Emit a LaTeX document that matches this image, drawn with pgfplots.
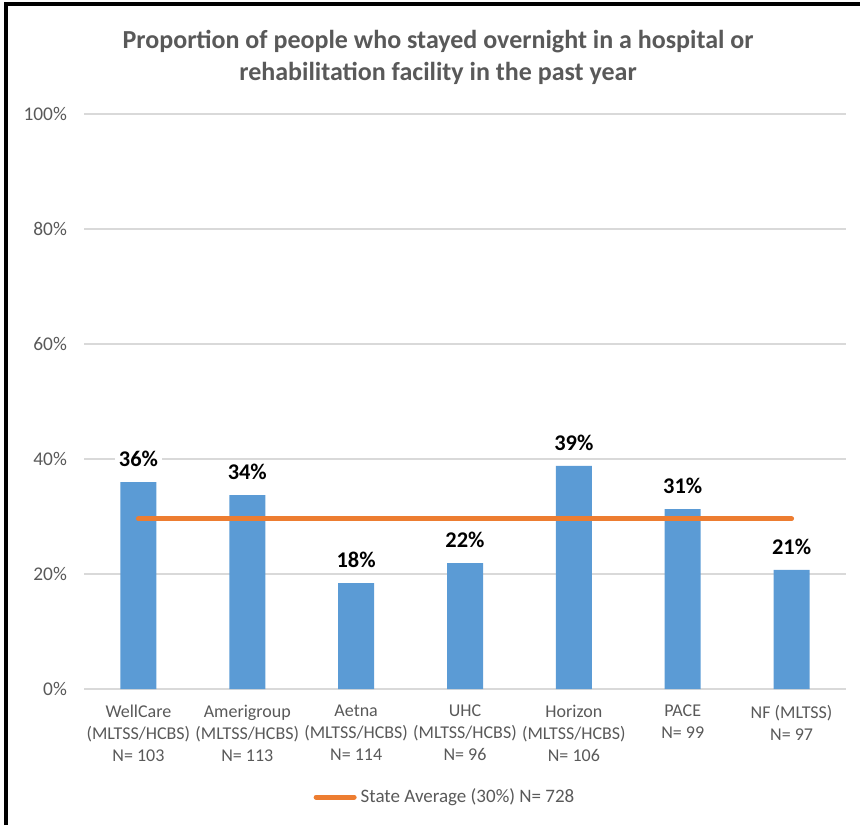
\documentclass[border=0pt]{standalone}
\usepackage{pgfplots}
\pgfplotsset{compat=1.18}
\usepackage{fontspec}
\setmainfont{Carlito}
\definecolor{barblue}{HTML}{5B9BD5}
\definecolor{avgorange}{HTML}{ED7D31}
\definecolor{txtgray}{HTML}{595959}
\definecolor{gridgray}{HTML}{D9D9D9}
\begin{document}
\begin{tikzpicture}
\path[use as bounding box] (0,0) rectangle (430pt,412.5pt);
\draw[line width=1.6pt] (3pt,0) -- (3pt,410.5pt) -- (430pt,410.5pt);
\node[align=center, font=\fontsize{13}{16}\selectfont\bfseries, text=txtgray] at (219pt,384pt)
  {Proportion of people who stayed overnight in a hospital or\\rehabilitation facility in the past year};
\begin{axis}[
  at={(42pt,68pt)}, anchor=south west,
  scale only axis, width=381pt, height=287.5pt,
  xmin=-0.5, xmax=6.5, ymin=0, ymax=100,
  axis x line*=bottom, axis y line*=left,
  y axis line style={draw=none},
  x axis line style={gridgray, line width=0.8pt, -},
  xtick=data, xtick style={draw=none},
  xticklabels={{WellCare\\(MLTSS/HCBS)\\N= 103},{Amerigroup\\(MLTSS/HCBS)\\N= 113},{Aetna\\(MLTSS/HCBS)\\N= 114},{UHC\\(MLTSS/HCBS)\\N= 96},{Horizon\\(MLTSS/HCBS)\\N= 106},{PACE\\N= 99},{NF (MLTSS)\\N= 97}},
  xticklabel style={align=center, font=\fontsize{9}{11}\selectfont, text=txtgray, yshift=-4.5pt},
  ytick={0,20,40,60,80,100},
  yticklabels={0\%,20\%,40\%,60\%,80\%,100\%},
  yticklabel style={font=\fontsize{9.7}{11}\selectfont, text=txtgray, xshift=-5pt},
  ymajorgrids, grid style={gridgray, line width=0.75pt},
  ytick style={draw=none},
  /pgf/number format/assume math mode=true,
  legend style={at={(0.475,-0.188)}, anchor=center, draw=none, fill=none,
    font=\fontsize{9.5}{11}\selectfont, text=txtgray, inner sep=0pt},
  legend cell align=left,
  legend image code/.code={\draw[#1] (0pt,0pt) -- (19pt,0pt);},
  clip=false,
]
\addplot[ybar, bar width=18pt, fill=barblue, draw=none, forget plot,
  nodes near coords={\pgfmathprintnumber[fixed,precision=0]{\pgfplotspointmeta}\%},
  every node near coord/.append style={font=\fontsize{11.2}{13}\selectfont\bfseries, text=black, fill=white, inner sep=2pt, yshift=5.5pt}]
  coordinates {(0,36.0) (1,33.7) (2,18.4) (3,21.9) (4,38.8) (5,31.3) (6,20.7)};
\addplot[avgorange, line width=2.5pt, line cap=round] coordinates {(0,29.6) (1,29.6) (2,29.6) (3,29.6) (4,29.6) (5,29.6) (6,29.6)};
\addlegendentry{State Average (30\%) N= 728}
\end{axis}
\end{tikzpicture}
\end{document}
